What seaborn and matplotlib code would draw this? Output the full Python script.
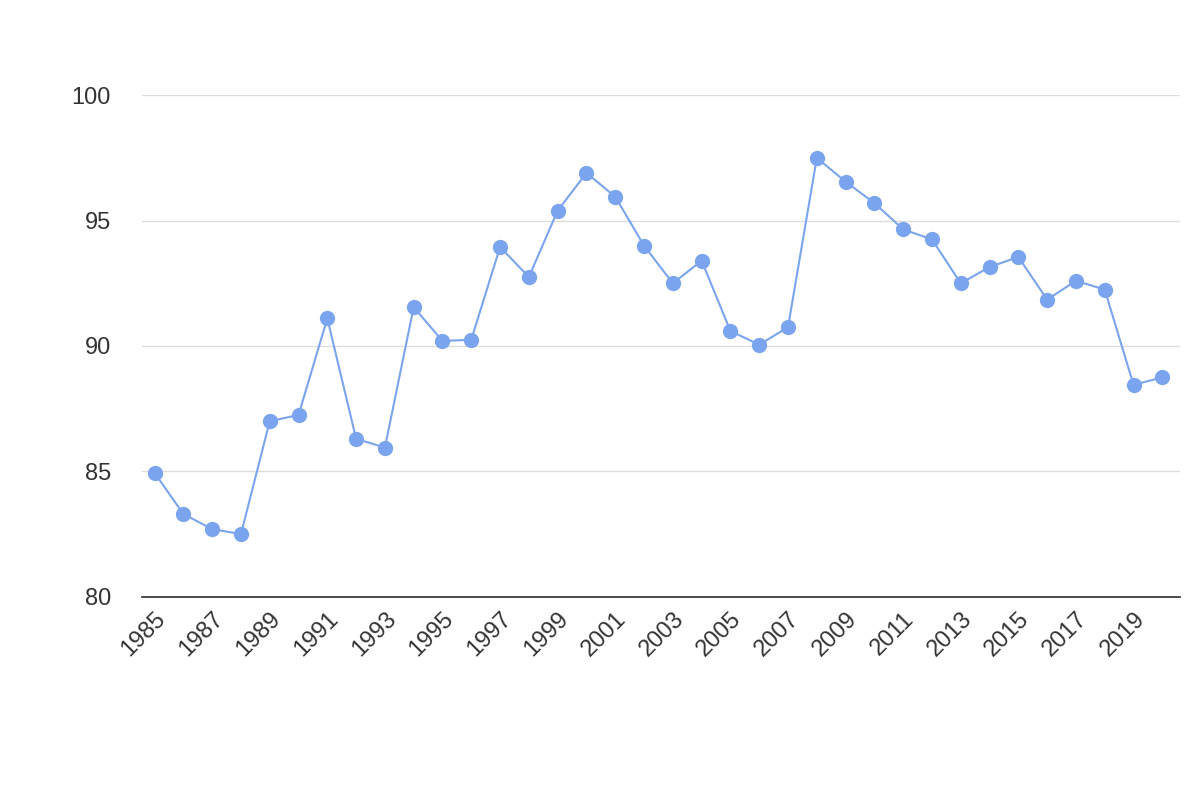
import matplotlib
matplotlib.use("Agg")
import matplotlib.pyplot as plt
import seaborn as sns
import pandas as pd

years = list(range(1985, 2021))
values = [84.94, 83.3, 82.7, 82.5, 87.0, 87.25, 91.1, 86.3, 85.95, 91.55,
          90.2, 90.25, 93.95, 92.75, 95.4, 96.9, 95.95, 94.0, 92.5, 93.4,
          90.6, 90.05, 90.75, 97.5, 96.55, 95.7, 94.65, 94.25, 92.5, 93.15,
          93.55, 91.85, 92.6, 92.25, 88.45, 88.75]
df = pd.DataFrame({"year": years, "value": values})

sns.set_theme(style="white")
plt.rcParams['font.family'] = ['Liberation Sans', 'DejaVu Sans']
fig = plt.figure(figsize=(12, 8), dpi=100)
ax = fig.add_axes([0.118, 0.254, 0.865, 0.627])
color = "#7ba4ee"
sns.lineplot(data=df, x="year", y="value", ax=ax, color=color, linewidth=1.5,
             marker="o", markersize=11, markeredgewidth=0, clip_on=False)
ax.set_xlim(1984.55, 2020.6)
ax.set_ylim(80, 100)
ax.set_yticks([80, 85, 90, 95, 100])
ax.set_xticks(list(range(1985, 2020, 2)))
ax.set_xticklabels([str(y) for y in range(1985, 2020, 2)], rotation=45, ha="right",
                   rotation_mode="anchor", fontsize=17, color="#333333")
ax.tick_params(axis="y", labelsize=17, labelcolor="#333333", length=0, pad=22)
ax.tick_params(axis="x", length=0, pad=8)
ax.grid(axis="y", color="#dddddd", linewidth=1)
ax.set_axisbelow(True)
for s in ["top", "right", "left"]:
    ax.spines[s].set_visible(False)
ax.spines["bottom"].set_color("#333333")
ax.set_xlabel("")
ax.set_ylabel("")
fig.savefig("out.png", dpi=100, facecolor="white")
